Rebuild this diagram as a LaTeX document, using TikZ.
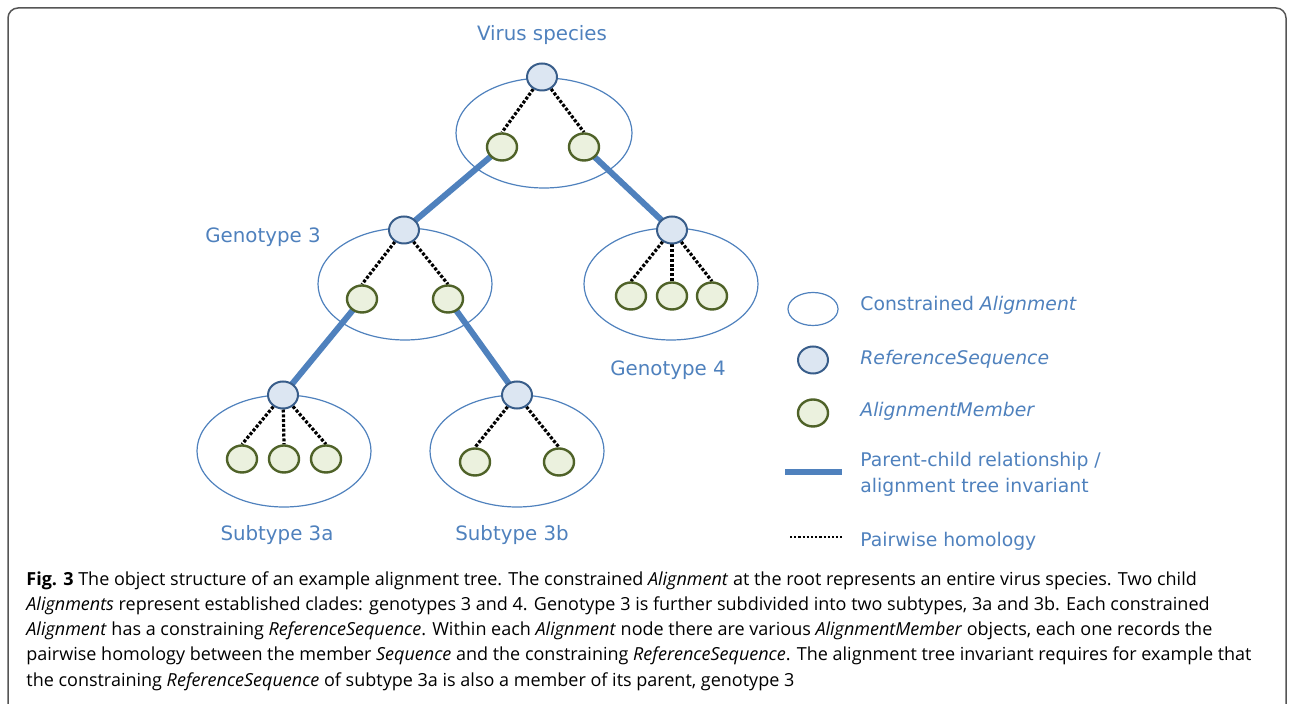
\documentclass[tikz,border=0pt]{standalone}
\usepackage{fontspec}
\usepackage{tikz}
\usepackage{xcolor}
\setmainfont{DejaVu Sans}
\newfontfamily\capfont{Open Sans}
\usetikzlibrary{shapes.geometric, backgrounds}
\definecolor{labelblue}{RGB}{79,129,189}
\definecolor{refedge}{RGB}{56,93,138}
\definecolor{reffill}{RGB}{220,230,242}
\definecolor{memedge}{RGB}{79,98,40}
\definecolor{memfill}{RGB}{235,241,222}
\definecolor{framegrey}{RGB}{85,85,85}
\tikzstyle{alignment} = [
    ellipse, draw=labelblue, line width=0.6pt, inner sep=0pt,
    minimum width=87pt, minimum height=56pt
]
\tikzstyle{refseq} = [
    ellipse, draw=refedge, fill=reffill, line width=1pt, inner sep=0pt,
    minimum width=15pt, minimum height=13.5pt
]
\tikzstyle{member} = [
    ellipse, draw=memedge, fill=memfill, line width=1.2pt, inner sep=0pt,
    minimum width=15pt, minimum height=13.5pt
]
\tikzstyle{treelabel} = [text=labelblue, font=\fontsize{9.9}{12}\selectfont]
\tikzstyle{legendtext} = [
    text=labelblue, font=\fontsize{9.4}{13}\selectfont, inner sep=0pt,
    anchor=base west
]
\tikzstyle{tree} = [draw=labelblue, line width=3pt]
\tikzstyle{homology} = [line width=1.6pt, dash pattern=on 1.5pt off 0.9pt]

\begin{document}
\begin{tikzpicture}[x=0.5pt, y=-0.5pt]
            \useasboundingbox (0,0) rectangle (1294,704);
            \draw [framegrey, line width=0.75pt, rounded corners=5pt]
                (8,760) -- (8,8) -- (1286,8) -- (1286,760);

            % virus species
            \node (rootaln) [alignment, minimum width=88pt, minimum height=55pt] at (544,133) {};
            \node (rootref) [refseq] at (542,77) {};
            \node (rootm1) [member] at (502,147) {};
            \node (rootm2) [member] at (584,147) {};
            \node (rootlbl) [treelabel] at (542,35) {Virus species};

            % genotype 3
            \node (g3aln) [alignment] at (405,284) {};
            \node (g3ref) [refseq] at (404,230) {};
            \node (g3m1) [member] at (362,299) {};
            \node (g3m2) [member] at (448,299) {};
            \node (g3lbl) [treelabel] at (263,237) {Genotype 3};

            % genotype 4
            \node (g4aln) [alignment] at (671,284) {};
            \node (g4ref) [refseq] at (672,230) {};
            \node (g4m1) [member] at (631,296) {};
            \node (g4m2) [member] at (672,296) {};
            \node (g4m3) [member] at (712,296) {};
            \node (g4lbl) [treelabel] at (668,370) {Genotype 4};

            % subtype 3a
            \node (s3aaln) [alignment] at (284,451) {};
            \node (s3aref) [refseq] at (283,395) {};
            \node (s3am1) [member] at (242,459) {};
            \node (s3am2) [member] at (284,459) {};
            \node (s3am3) [member] at (326,459) {};
            \node (s3albl) [treelabel] at (277,535) {Subtype 3a};

            % subtype 3b
            \node (s3baln) [alignment] at (517,451) {};
            \node (s3bref) [refseq] at (517,395) {};
            \node (s3bm1) [member] at (475,462) {};
            \node (s3bm2) [member] at (559,462) {};
            \node (s3blbl) [treelabel] at (512,535) {Subtype 3b};

            \begin{pgfonlayer}{background}
                \draw [tree] (rootm1.center) -- (g3ref.center);
                \draw [tree] (rootm2.center) -- (g4ref.center);
                \draw [tree] (g3m1.center) -- (s3aref.center);
                \draw [tree] (g3m2.center) -- (s3bref.center);

                \draw [homology] (rootref) -- (rootm1.north);
                \draw [homology] (rootref) -- (rootm2.north);
                \draw [homology] (g3ref) -- (g3m1.north);
                \draw [homology] (g3ref) -- (g3m2.north);
                \draw [homology] (g4ref) -- (g4m1.north);
                \draw [homology] (g4ref) -- (g4m2.north);
                \draw [homology] (g4ref) -- (g4m3.north);
                \draw [homology] (s3aref) -- (s3am1.north);
                \draw [homology] (s3aref) -- (s3am2.north);
                \draw [homology] (s3aref) -- (s3am3.north);
                \draw [homology] (s3bref) -- (s3bm1.north);
                \draw [homology] (s3bref) -- (s3bm2.north);
            \end{pgfonlayer}

            % key
            \node (keyaln) [alignment, minimum width=25pt, minimum height=16.5pt] at (813,309) {};
            \node (keyref) [refseq] at (813,360) {};
            \node (keymem) [member] at (813,413) {};
            \coordinate (keytreea) at (785,472);
            \coordinate (keytreeb) at (842,472);
            \coordinate (keyhoma) at (790,537);
            \coordinate (keyhomb) at (842,537);
            \draw [tree] (keytreea) -- (keytreeb);
            \draw [homology, line width=1.2pt, dash pattern=on 1.1pt off 1pt] (keyhoma) -- (keyhomb);

            \node (keyalntxt) [legendtext] at (860,311) {Constrained \textit{Alignment}};
            \node (keyreftxt) [legendtext] at (860,365) {\textit{ReferenceSequence}};
            \node (keymemtxt) [legendtext] at (860,417) {\textit{AlignmentMember}};
            \node (keytreetxt) [legendtext, align=left] at (860,493)
                {Parent-child relationship /\\alignment tree invariant};
            \node (keyhomtxt) [legendtext] at (860,547) {Pairwise homology};

            \node (caption) [anchor=base west, align=left, inner sep=0pt,
                font=\capfont\fontsize{9.0}{12.6}\selectfont] at (26,686)
                {\textbf{Fig. 3} The object structure of an example alignment tree. The constrained \textit{Alignment} at the root represents an entire virus species. Two child\\
                \textit{Alignments} represent established clades: genotypes 3 and 4. Genotype 3 is further subdivided into two subtypes, 3a and 3b. Each constrained\\
                \textit{Alignment} has a constraining \textit{ReferenceSequence}. Within each \textit{Alignment} node there are various \textit{AlignmentMember} objects, each one records the\\
                pairwise homology between the member \textit{Sequence} and the constraining \textit{ReferenceSequence}. The alignment tree invariant requires for example that\\
                the constraining \textit{ReferenceSequence} of subtype 3a is also a member of its parent, genotype 3};
        \end{tikzpicture}
\end{document}
